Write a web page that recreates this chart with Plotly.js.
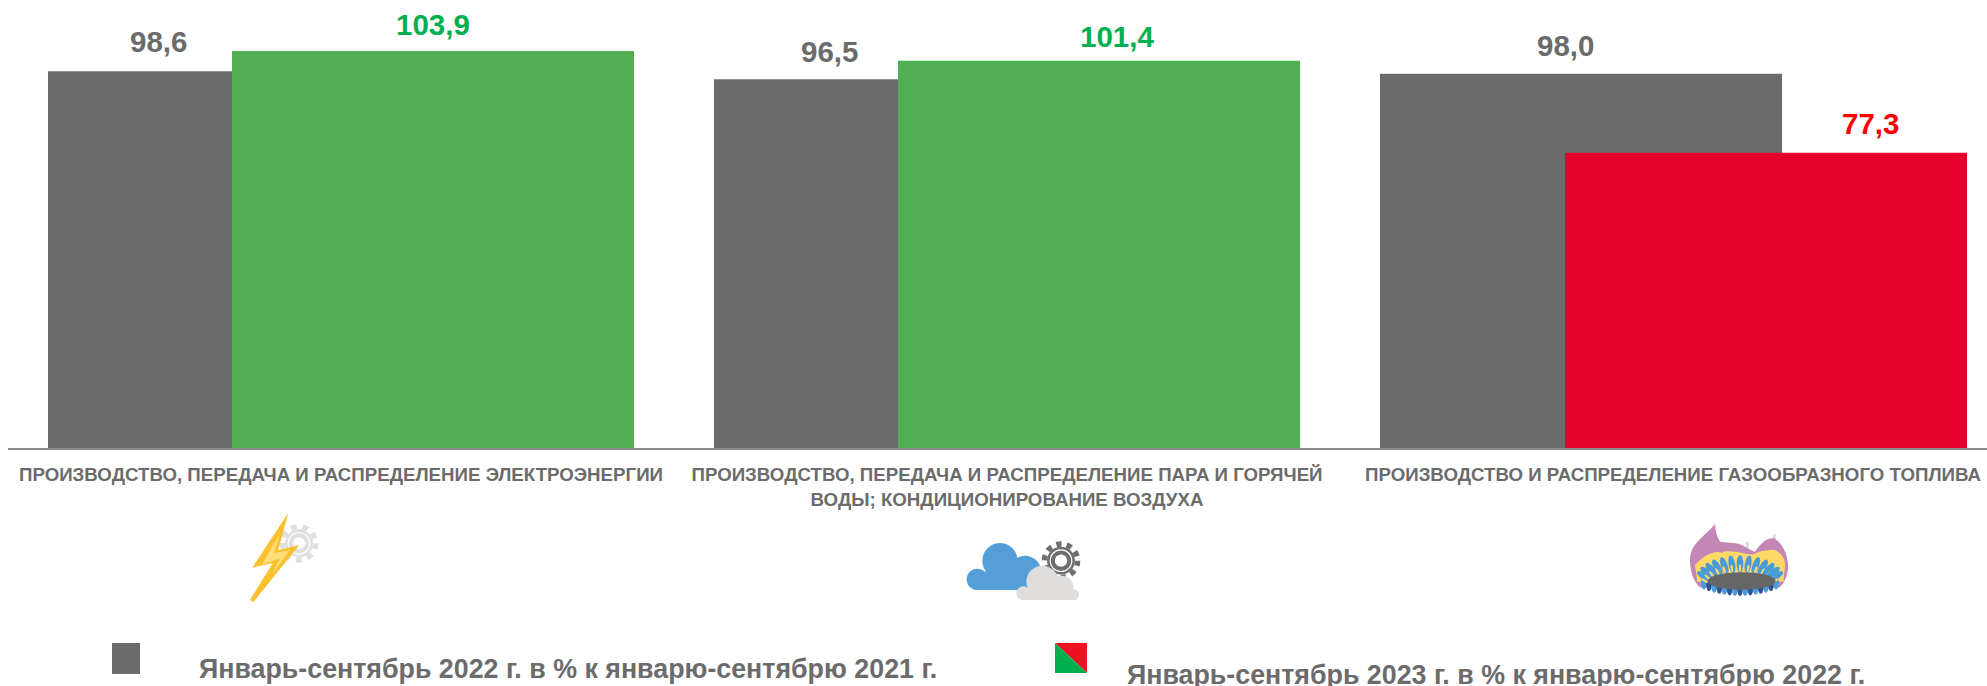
<!DOCTYPE html>
<html>
<head>
<meta charset="utf-8">
<script src="https://cdn.plot.ly/plotly-3.0.1.min.js"></script>
<style>html,body{margin:0;padding:0;background:#fff;overflow:hidden}#chart{width:1987px;height:686px}</style>
</head>
<body>
<div id="chart"></div>
<script>
const categories = [
  "ПРОИЗВОДСТВО, ПЕРЕДАЧА И РАСПРЕДЕЛЕНИЕ ЭЛЕКТРОЭНЕРГИИ",
  "ПРОИЗВОДСТВО, ПЕРЕДАЧА И РАСПРЕДЕЛЕНИЕ ПАРА И ГОРЯЧЕЙ<br>ВОДЫ; КОНДИЦИОНИРОВАНИЕ ВОЗДУХА",
  "ПРОИЗВОДСТВО И РАСПРЕДЕЛЕНИЕ ГАЗООБРАЗНОГО ТОПЛИВА"
];
const values2022 = [98.6, 96.5, 98.0];
const values2023 = [103.9, 101.4, 77.3];
const labels2022 = ["98,6", "96,5", "98,0"];
const labels2023 = ["103,9", "101,4", "77,3"];
const colors2023 = ["#4FAF52", "#4FAF52", "#E4002B"];
const labelColors2023 = ["#00B050", "#00B050", "#FF0000"];
const legend2022 = "Январь-сентябрь 2022 г. в % к январю-сентябрю 2021 г.";
const legend2023 = "Январь-сентябрь 2023 г. в % к январю-сентябрю 2022 г.";

const GRAY = "#6B6B6B";
const FONT = '"Liberation Sans", Arial, sans-serif';
const W = 1987, H = 686, L = 8, AXIS = 448;
const PX = p => (p - L) / (W - L);
const PY = p => (AXIS - p) / AXIS;
const UNIT = 666;

const label2022Shift = [-183, -178, -108];
const label2023Shift = [92, 110, 197];
const label2022Lift = [30, 28, 28];
const label2023Lift = [27, 24, 29];

function dataLabels(vals, texts, colors, xs, ys) {
  return vals.map((v, i) => ({
    xref: "x", yref: "y", x: i, y: v, text: texts[i], showarrow: false,
    xanchor: "center", yanchor: "middle", xshift: xs[i], yshift: ys[i],
    font: {family: FONT, size: 29.5, color: colors[i], weight: 700}
  }));
}

function svgURI(viewW, viewH, body) {
  const s = `<svg xmlns="http://www.w3.org/2000/svg" width="${viewW}" height="${viewH}" viewBox="0 0 ${viewW} ${viewH}">${body}</svg>`;
  return "data:image/svg+xml;charset=utf-8," + encodeURIComponent(s);
}
function gear(cx, cy, r, col, ring, teethCount) {
  const rr = r * 0.86, c = 2 * Math.PI * rr, d = c / teethCount / 2;
  return `<circle cx="${cx}" cy="${cy}" r="${r*0.72}" fill="${col}"/>` +
    `<circle cx="${cx}" cy="${cy}" r="${rr}" fill="none" stroke="${col}" stroke-width="${r*0.28}" stroke-dasharray="${d} ${d}"/>` +
    `<circle cx="${cx}" cy="${cy}" r="${r*0.56}" fill="none" stroke="${ring}" stroke-width="${r*0.06}"/>` +
    `<circle cx="${cx}" cy="${cy}" r="${r*0.32}" fill="#fff"/>`;
}
const boltSVG = svgURI(480, 360,
  gear(297, 130, 58, "#DFDFDF", "#fff", 9) +
  `<path d="M265 38 L157 203 L218 190 L150 300 L160 306 L298 135 L235 150 Z" fill="#FBC02D"/>` +
  `<path d="M240 100 L185 195 L240 175 L215 225 L270 150 L222 160 Z" fill="#FFDD77"/>`);
const cloudSVG = svgURI(900, 558,
  `<g fill="#559FD8"><circle cx="300" cy="182" r="53"/><circle cx="232" cy="238" r="32"/><circle cx="375" cy="215" r="48"/><rect x="232" y="215" width="190" height="55"/></g>` +
  gear(483, 182, 58, "#6E6E6E", "#fff", 10) +
  `<g fill="#DEDDDC"><circle cx="427" cy="245" r="48"/><circle cx="485" cy="262" r="35"/><circle cx="370" cy="280" r="21"/><circle cx="520" cy="284" r="17"/><rect x="370" y="270" width="150" height="30"/></g>`);
let petals = "";
for (let i = -6; i <= 6; i++) {
  const deg = i * 13, a = deg * Math.PI / 180;
  const x = 300 + 108 * Math.sin(a), y = 240 - 48 * Math.cos(a);
  petals += `<ellipse cx="${x}" cy="${y}" rx="10" ry="27" fill="#4A9BD9" transform="rotate(${deg*0.75} ${x} ${y})"/>` +
            `<ellipse cx="${x}" cy="${y+12}" rx="3.5" ry="11" fill="#FFD966" transform="rotate(${deg*0.75} ${x} ${y+12})"/>`;
}
let lower = "";
for (let i = -7; i <= 7; i++) {
  const x = 300 + i * 15.5, y = 268 - i * i * 0.4;
  lower += `<ellipse cx="${x}" cy="${y}" rx="8.5" ry="20" fill="${i % 2 ? '#4A9BD9' : '#2F5597'}"/>`;
}
const burnerSVG = svgURI(600, 360,
  `<rect x="317" y="125" width="10" height="30" fill="#DDD"/><rect x="398" y="103" width="10" height="30" fill="#DDD"/>` +
  `<path d="M225 72 C195 110 150 130 150 180 C150 220 165 250 180 262 L420 262 C440 240 448 210 442 180 C438 150 420 125 402 115 C385 112 365 125 345 155 C325 150 305 130 285 130 L240 125 C230 110 226 90 225 72 Z" fill="#C487B5"/>` +
  `<path d="M165 195 C190 165 225 150 245 158 C270 145 320 165 340 163 C365 150 395 150 405 150 C425 160 438 180 435 200 L430 245 L172 245 Z" fill="#FFD966"/>` +
  lower + petals +
  `<ellipse cx="305" cy="243" rx="102" ry="26" fill="#666"/>`);

function img(src, x, y, w, h) {
  return {source: src, xref: "paper", yref: "paper", x: PX(x), y: PY(y),
          sizex: w / (W - L), sizey: h / AXIS, xanchor: "left", yanchor: "top",
          sizing: "stretch", layer: "above"};
}

const traces = [
  {type: "bar", name: legend2022, x: categories, y: values2022,
   width: 402 / UNIT, offset: -293 / UNIT, marker: {color: GRAY}, hoverinfo: "y"},
  {type: "bar", name: legend2023, x: categories, y: values2023,
   width: 402 / UNIT, offset: [-109 / UNIT, -109 / UNIT, -108 / UNIT], marker: {color: colors2023}, hoverinfo: "y"}
];

const annotations = [
  ...dataLabels(values2022, labels2022, [GRAY, GRAY, GRAY], label2022Shift, label2022Lift),
  ...dataLabels(values2023, labels2023, labelColors2023, label2023Shift, label2023Lift),
  {xref: "paper", yref: "paper", x: PX(197), y: PY(669), text: legend2022, showarrow: false,
   xanchor: "left", yanchor: "middle", font: {family: FONT, size: 26.8, color: GRAY, weight: 700}},
  {xref: "paper", yref: "paper", x: PX(1125), y: PY(675), text: legend2023, showarrow: false,
   xanchor: "left", yanchor: "middle", font: {family: FONT, size: 26.8, color: GRAY, weight: 700}}
];

const shapes = [
  {type: "rect", xref: "paper", yref: "paper", x0: PX(112), x1: PX(140), y0: PY(643), y1: PY(674),
   fillcolor: GRAY, line: {width: 0}},
  {type: "path", xref: "paper", yref: "paper",
   path: `M ${PX(1055)} ${PY(643)} L ${PX(1087)} ${PY(643)} L ${PX(1087)} ${PY(673)} Z`,
   fillcolor: "#EE1122", line: {width: 0}},
  {type: "path", xref: "paper", yref: "paper",
   path: `M ${PX(1055)} ${PY(643)} L ${PX(1087)} ${PY(673)} L ${PX(1055)} ${PY(673)} Z`,
   fillcolor: "#00B050", line: {width: 0}}
];

const layout = {
  width: W, height: H, autosize: false,
  margin: {l: L, r: 0, t: 0, b: H - AXIS, pad: 0},
  paper_bgcolor: "#fff", plot_bgcolor: "#fff",
  barmode: "overlay", showlegend: false,
  font: {family: FONT, color: GRAY},
  xaxis: {type: "category", range: [-0.5, (W - L) / UNIT - 0.5], fixedrange: true,
          showline: true, linecolor: "#8C8C8C", linewidth: 2, showgrid: false, zeroline: false,
          ticks: "", tickangle: 0, ticklabelstandoff: 9, automargin: false,
          tickfont: {family: FONT, size: 18.7, color: GRAY, weight: 700}},
  yaxis: {range: [0, AXIS / 3.82], visible: false, fixedrange: true},
  annotations, shapes,
  images: [img(boltSVG, 200, 500, 160, 120), img(cloudSVG, 900, 500, 300, 186), img(burnerSVG, 1640, 500, 200, 120)]
};

Plotly.newPlot("chart", traces, layout, {displayModeBar: false, staticPlot: true});
</script>
</body>
</html>
